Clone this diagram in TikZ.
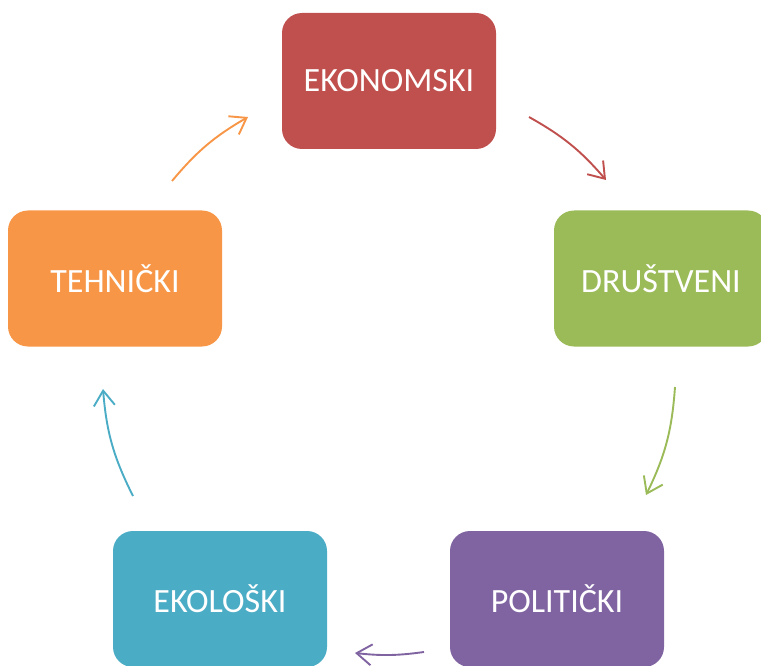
\documentclass[tikz,border=0pt]{standalone}
\usepackage{fontspec}
\setmainfont{Carlito}
\usetikzlibrary{arrows.meta}
\definecolor{cred}{HTML}{C0504D}
\definecolor{cgreen}{HTML}{9BBB59}
\definecolor{corange}{HTML}{F79646}
\definecolor{cpurple}{HTML}{8064A2}
\definecolor{cblue}{HTML}{4BACC6}
\tikzset{
  box/.style={rectangle, rounded corners=20pt, minimum width=214pt, minimum height=136pt,
    inner sep=0pt, text=white, font=\fontsize{34}{40}\selectfont},
  cyc/.style={line width=1.9pt, -{Straight Barb[length=15pt,width=21pt,line width=1.9pt]}, bend left=#1},
}
\begin{document}
\begin{tikzpicture}[x=1pt,y=-1pt]
\useasboundingbox (0,0) rectangle (761,666);
\clip (0,0) rectangle (761,666);
\node[box, fill=cred]    (eko) at (389,81)    {EKONOMSKI};
\node[box, fill=cgreen]  (dru) at (661,278.5) {DRUŠTVENI};
\node[box, fill=cpurple] (pol) at (557,599)   {POLITIČKI};
\node[box, fill=cblue]   (ekl) at (220,599)   {EKOLOŠKI};
\node[box, fill=corange] (teh) at (115,278.5) {TEHNIČKI};
\coordinate (a1) at (529,117);
\coordinate (a2) at (606,180);
\coordinate (b1) at (675,387);
\coordinate (b2) at (646,495);
\coordinate (c1) at (424,652);
\coordinate (c2) at (355,653);
\coordinate (d1) at (133,496);
\coordinate (d2) at (103,389);
\coordinate (e1) at (172,181);
\coordinate (e2) at (248,117);
\draw[cyc=10, cred] (a1) to (a2);
\draw[cyc=11, cgreen] (b1) to (b2);
\draw[cyc=7, cpurple] (c1) to (c2);
\draw[cyc=11, cblue] (d1) to (d2);
\draw[cyc=10, corange] (e1) to (e2);
\end{tikzpicture}
\end{document}
